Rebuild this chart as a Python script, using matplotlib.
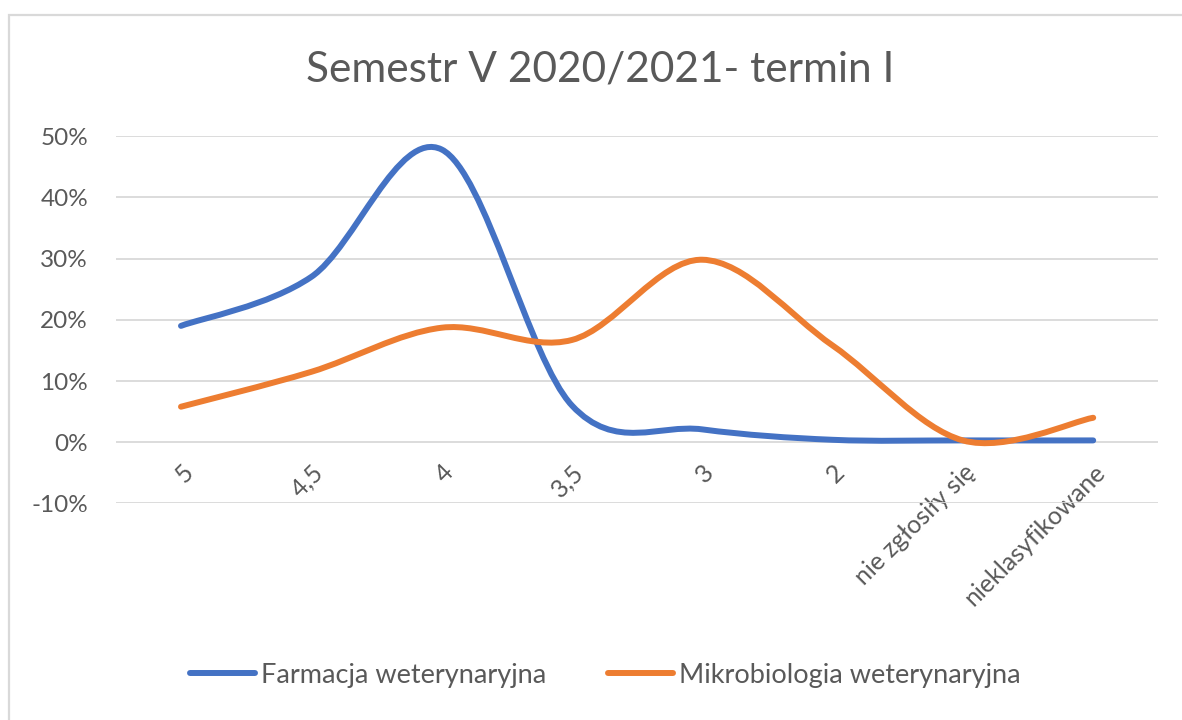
import matplotlib
matplotlib.use("Agg")
import matplotlib.pyplot as plt
from matplotlib.path import Path
from matplotlib.patches import PathPatch, Rectangle
from matplotlib.lines import Line2D
from matplotlib.ticker import PercentFormatter

plt.rcParams["font.family"] = ["Lato", "DejaVu Sans"]
plt.rcParams["axes.unicode_minus"] = False

categories = ["5", "4,5", "4", "3,5", "3", "2", "nie zgłosiły się", "nieklasyfikowane"]
farmacja = [0.190, 0.270, 0.478, 0.060, 0.021, 0.004, 0.003, 0.003]
mikrobiologia = [0.058, 0.115, 0.187, 0.167, 0.298, 0.158, 0.003, 0.040]
series_names = ["Farmacja weterynaryjna", "Mikrobiologia weterynaryjna"]
colors = ["#4472C4", "#ED7D31"]
title = "Semestr V 2020/2021- termin I"
text_color = "#595959"


def smooth_path(ys):
    """Excel-like smoothed line: cubic Bezier segments through every point"""
    pts = list(enumerate(ys))
    verts = [pts[0]]
    codes = [Path.MOVETO]
    n = len(pts)
    for i in range(n - 1):
        p0 = pts[i - 1] if i > 0 else pts[i]
        p1 = pts[i]
        p2 = pts[i + 1]
        p3 = pts[i + 2] if i + 2 < n else pts[i + 1]
        c1 = (p1[0] + (p2[0] - p0[0]) / 6, p1[1] + (p2[1] - p0[1]) / 6)
        c2 = (p2[0] - (p3[0] - p1[0]) / 6, p2[1] - (p3[1] - p1[1]) / 6)
        verts += [c1, c2, p2]
        codes += [Path.CURVE4] * 3
    return Path(verts, codes)


fig = plt.figure(figsize=(11.82, 7.2), dpi=100)
ax = fig.add_axes([0.098, 0.3007, 0.882, 0.5104])

# chart border (cut off on the right and bottom like the screenshot)
fig.patches.append(Rectangle((9 / 1182, -0.05), 1.1, 0.05 + 705 / 720,
                             transform=fig.transFigure, fill=False,
                             edgecolor="#D9D9D9", linewidth=1.6))

for ys, col in zip([farmacja, mikrobiologia], colors):
    ax.add_patch(PathPatch(smooth_path(ys), facecolor="none", edgecolor=col,
                           linewidth=4.3, capstyle="round", joinstyle="round",
                           zorder=3))

ax.set_xlim(-0.5, len(categories) - 0.5)
ax.set_ylim(-0.1, 0.5)
ax.set_yticks([-0.1, 0, 0.1, 0.2, 0.3, 0.4, 0.5])
ax.yaxis.set_major_formatter(PercentFormatter(1.0, decimals=0))
ax.grid(axis="y", color="#D9D9D9", linewidth=1.3)
ax.set_axisbelow(True)

for side in ["top", "right", "left"]:
    ax.spines[side].set_visible(False)
ax.spines["bottom"].set_position(("data", 0))
ax.spines["bottom"].set_visible(False)

ax.set_xticks(range(len(categories)))
ax.set_xticklabels(categories, rotation=45, ha="right", rotation_mode="anchor")
ax.tick_params(axis="x", length=0, pad=13, labelsize=18, labelcolor=text_color)
ax.tick_params(axis="y", length=0, pad=20, labelsize=17.5, labelcolor=text_color)

fig.text(0.508, 0.903, title, ha="center", va="center", fontsize=30.5,
         color=text_color)

handles = [Line2D([], [], color=c, linewidth=4.3, solid_capstyle="round")
           for c in colors]
fig.legend(handles, series_names, loc="center", bbox_to_anchor=(0.512, 1 - 675 / 720),
           ncol=2, frameon=False, fontsize=19.5, labelcolor=text_color,
           handlelength=2.4, handletextpad=0.2, columnspacing=2.3)

fig.savefig("out.png", dpi=100, facecolor="white")
